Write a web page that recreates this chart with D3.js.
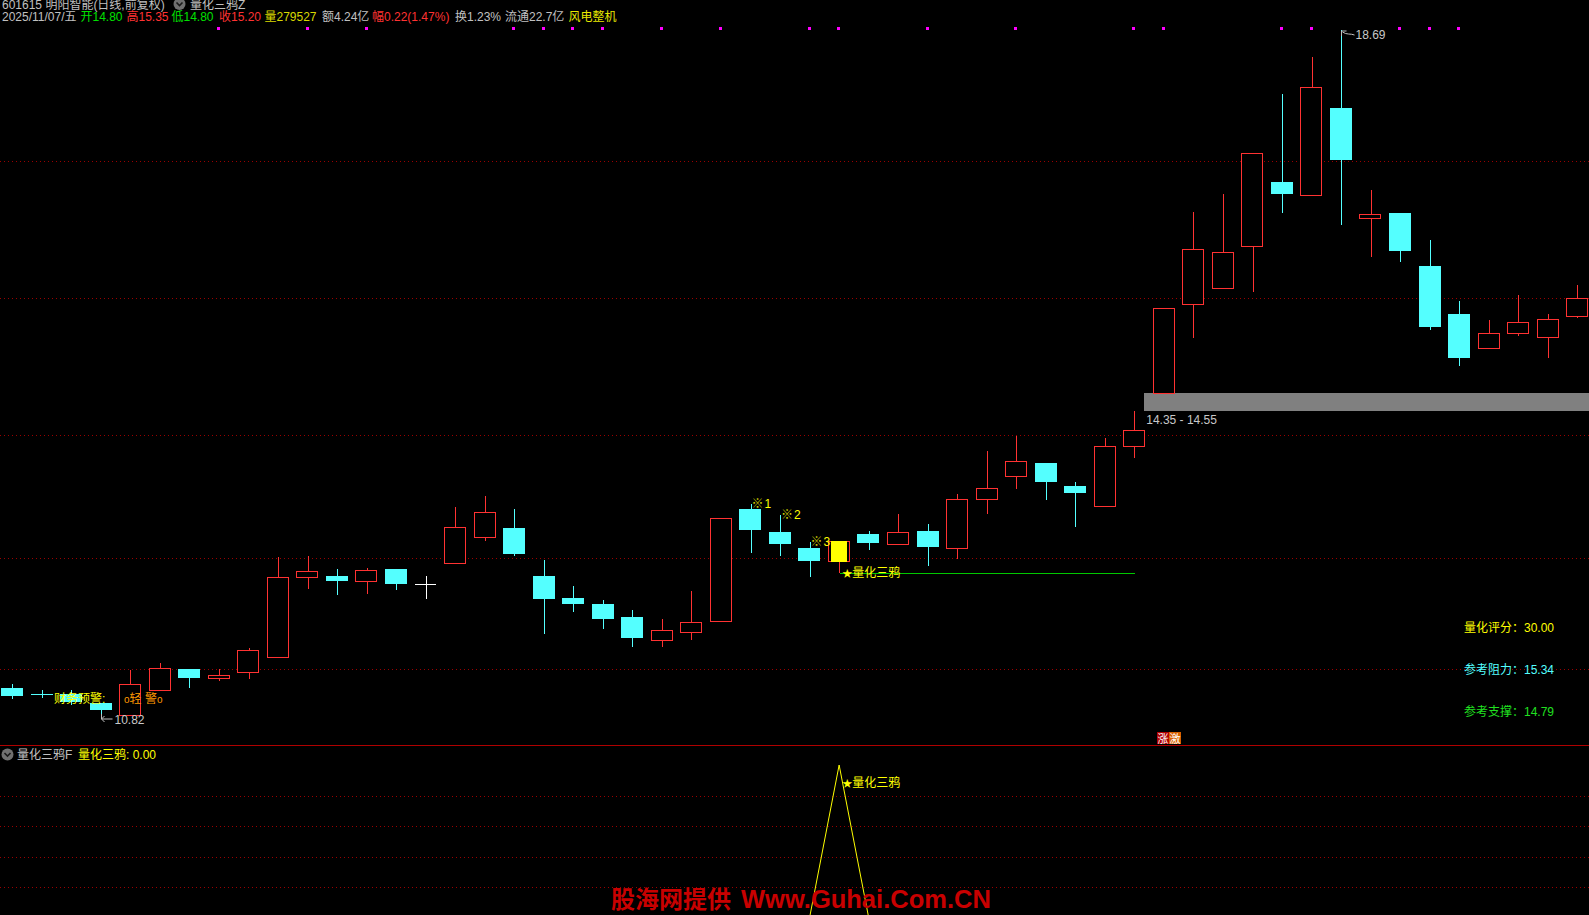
<!DOCTYPE html>
<html>
<head>
<meta charset="utf-8">
<script src="https://cdn.jsdelivr.net/npm/d3@7/dist/d3.min.js"></script>
<style>
  html, body { margin: 0; padding: 0; background: #000; overflow: hidden; }
  svg { display: block; }
  text { font-family: "Liberation Sans", "Noto Sans CJK SC", sans-serif; }
</style>
</head>
<body>
<div id="chart"></div>
<script>
// ---------------- data ----------------
const opens  = [11.18,11.11,11.11,11.01,10.87,11.16,11.40,11.29,11.36,11.53,
                12.45,12.46,12.40,12.54,12.37,12.61,12.90,13.00,12.46,12.20,
                12.14,11.99,11.73,11.82,11.94,13.22,12.96,12.78,12.63,12.94,
                12.82,12.97,12.78,13.34,13.60,13.75,13.48,13.25,13.94,14.54,
                15.56,15.75,16.22,16.96,16.81,17.80,16.54,16.60,16.00,15.45,
                15.06,15.23,15.18,15.42];
const highs  = [11.22,11.15,11.15,11.01,11.38,11.46,11.40,11.40,11.63,12.67,
                12.68,12.54,12.55,12.54,12.46,13.24,13.37,13.22,12.64,12.34,
                12.18,12.07,11.97,12.28,13.12,13.28,13.15,12.84,12.86,12.97,
                13.16,13.05,13.39,13.88,14.05,13.75,13.53,14.03,14.34,15.52,
                16.61,16.82,17.28,17.96,18.38,18.69,16.86,16.60,16.29,15.60,
                15.38,15.66,15.45,15.78];
const lows   = [11.05,11.06,10.98,10.82,10.87,11.16,11.18,11.26,11.28,11.53,
                12.31,12.24,12.25,12.30,12.19,12.61,12.86,12.69,11.79,12.04,
                11.85,11.65,11.65,11.73,11.94,12.72,12.68,12.44,12.49,12.75,
                12.81,12.57,12.65,13.16,13.45,13.32,13.02,13.25,13.80,14.54,
                15.17,15.75,15.70,16.60,16.80,16.46,16.10,16.04,15.27,14.85,
                15.06,15.20,14.94,15.40];
const closes = [11.09,11.10,11.02,10.93,11.22,11.41,11.29,11.33,11.61,12.45,
                12.51,12.40,12.53,12.37,12.37,13.02,13.19,12.71,12.19,12.14,
                11.97,11.75,11.84,11.93,13.12,12.98,12.82,12.63,12.86,12.83,
                12.96,12.79,13.33,13.46,13.77,13.53,13.40,13.94,14.12,15.52,
                16.19,16.15,17.28,16.82,18.04,17.21,16.59,16.17,15.30,14.94,
                15.23,15.36,15.39,15.63];
const gridPrices = [17.19, 15.63, 14.07, 12.66, 11.39];
const subGridValues = [0.2, 0.4, 0.6, 0.8];
const markIdx = [7,10,12,17,18,19,20,22,24,27,28,31,34,38,39,43,44,47,48,49];
const crowIdx = [25, 26, 27];
const crowNums = ["1", "2", "3"];
const signalIdx = 28;
const supportEndIdx = 38;
const zoneIdx = 39;
const zoneRange = [14.35, 14.55];
const zoneLabel = "14.35 - 14.55";
const badgeIdx = 39;
const priceMax = 18.69, priceMin = 10.82;
const signalValues = opens.map((d, i) => i === signalIdx ? 1 : 0);
const headerItems = [
  {t:"2025/11/07/五", c:"#c0c0c0", x:2},
  {t:"开14.80", c:"#00e000", x:80.5},
  {t:"高15.35", c:"#ff3232", x:126.5},
  {t:"低14.80", c:"#00e000", x:171.5},
  {t:"收15.20", c:"#ff3232", x:219},
  {t:"量279527", c:"#d8d800", x:264.5},
  {t:"额4.24亿", c:"#c0c0c0", x:322},
  {t:"幅0.22(1.47%)", c:"#ff3232", x:372},
  {t:"换1.23%", c:"#c0c0c0", x:455},
  {t:"流通22.7亿", c:"#c0c0c0", x:505},
  {t:"风电整机", c:"#e8e800", x:568.5}
];
const infoLabels = [
  {name:"量化评分", val:"30.00", c:"#ffff00"},
  {name:"参考阻力", val:"15.34", c:"#54ffff"},
  {name:"参考支撑", val:"14.79", c:"#20e020"}
];

// ---------------- chart ----------------
const W = 1589, H = 915;
const RED = "#ff3232", CYAN = "#54ffff";
const svg = d3.select("#chart").append("svg").attr("width", W).attr("height", H)
  .style("background", "#000");

const idx = d3.range(opens.length);
const x = d3.scaleBand().domain(idx).range([-2.47, 1592.15]).paddingInner(0.24).paddingOuter(0.12);
const xc = i => x(i) + x.bandwidth() / 2;
const y = d3.scaleLinear().domain([priceMin, priceMax]).range([719.3, 30]);
const ys = d3.scaleLinear().domain([0, 1]).range([917.5, 765]);
const px = v => Math.round(v) + 0.5;

// grid lines main
svg.append("g").selectAll("line").data(gridPrices).join("line")
  .attr("x1", 0).attr("x2", W)
  .attr("y1", d => px(y(d))).attr("y2", d => px(y(d)))
  .attr("stroke", "#9a0000").attr("stroke-dasharray", "1,3").attr("shape-rendering", "crispEdges");
// grid lines sub
svg.append("g").selectAll("line").data(subGridValues).join("line")
  .attr("x1", 0).attr("x2", W)
  .attr("y1", d => px(ys(d))).attr("y2", d => px(ys(d)))
  .attr("stroke", "#9a0000").attr("stroke-dasharray", "1,3").attr("shape-rendering", "crispEdges");

// separator
svg.append("line").attr("x1", 0).attr("x2", W).attr("y1", 745.5).attr("y2", 745.5)
  .attr("stroke", "#b00000").attr("shape-rendering", "crispEdges");

// zone band
svg.append("rect")
  .attr("x", Math.round(xc(zoneIdx) - x.step() * 0.66)).attr("width", W)
  .attr("y", Math.round(y(zoneRange[1]))).attr("height", Math.round(y(zoneRange[0]) - y(zoneRange[1])))
  .attr("fill", "#808080");
svg.append("text").attr("x", xc(zoneIdx) - x.step() * 0.6).attr("y", Math.round(y(zoneRange[0])) + 10)
  .attr("fill", "#c8c8c8").attr("font-size", 12).attr("dominant-baseline", "central").text(zoneLabel);

// support line from signal candle
svg.append("line")
  .attr("x1", px(xc(signalIdx))).attr("x2", px(xc(supportEndIdx)))
  .attr("y1", px(y(lows[signalIdx]))).attr("y2", px(y(lows[signalIdx])))
  .attr("stroke", "#00c800").attr("shape-rendering", "crispEdges");

// candles
const g = svg.append("g").attr("shape-rendering", "crispEdges");
idx.forEach(i => {
  const o = opens[i], c = closes[i], h = highs[i], l = lows[i];
  const cx = px(xc(i));
  const left = Math.round(x(i)) + 0.5;
  const bw = Math.round(x.bandwidth()) - 1;
  const top = Math.round(y(Math.max(o, c))), bot = Math.round(y(Math.min(o, c)));
  const yh = Math.round(y(h)), yl = Math.round(y(l));
  if (c > o) {
    if (yh < top) g.append("line").attr("x1", cx).attr("x2", cx).attr("y1", yh).attr("y2", top).attr("stroke", RED);
    if (yl > bot) g.append("line").attr("x1", cx).attr("x2", cx).attr("y1", bot).attr("y2", yl).attr("stroke", RED);
    g.append("rect").attr("x", left).attr("y", top + 0.5).attr("width", bw).attr("height", Math.max(1, bot - top))
      .attr("fill", "#000").attr("stroke", RED);
    if (i === signalIdx) {
      g.append("rect").attr("x", left + 2.5).attr("y", top).attr("width", bw - 5).attr("height", bot - top + 1)
        .attr("fill", "#ffff00");
    }
  } else if (c < o) {
    g.append("line").attr("x1", cx).attr("x2", cx).attr("y1", yh).attr("y2", yl).attr("stroke", CYAN);
    g.append("rect").attr("x", left - 0.5).attr("y", top).attr("width", bw + 1).attr("height", Math.max(1, bot - top))
      .attr("fill", CYAN);
  } else {
    g.append("line").attr("x1", cx).attr("x2", cx).attr("y1", yh).attr("y2", yl).attr("stroke", "#ffffff");
    g.append("line").attr("x1", left).attr("x2", left + bw).attr("y1", top + 0.5).attr("y2", top + 0.5).attr("stroke", "#ffffff");
  }
});

// magenta marks
svg.append("g").selectAll("rect").data(markIdx).join("rect")
  .attr("x", d => Math.round(xc(d)) - 2).attr("y", 27).attr("width", 3).attr("height", 3)
  .attr("fill", "#ff00ff");

// crow labels
crowIdx.forEach((ci, k) => {
  const t = svg.append("text").attr("x", xc(ci) + 1).attr("y", y(highs[ci]))
    .attr("dominant-baseline", "central").attr("font-size", 12);
  t.append("tspan").attr("fill", "#d0d000").attr("font-weight", "bold").text("※");
  t.append("tspan").attr("fill", "#ffff00").attr("dx", 1).text(crowNums[k]);
});
// signal label
const sl = svg.append("text").attr("x", xc(signalIdx) + 3).attr("y", y(lows[signalIdx]))
  .attr("dominant-baseline", "central").attr("font-size", 12).attr("fill", "#ffff00");
sl.append("tspan").attr("font-size", 10).text("★");
sl.append("tspan").text("量化三鸦");

// high / low markers
const hiIdx = highs.indexOf(d3.max(highs));
const loIdx = lows.indexOf(d3.min(lows));
const hx = px(xc(hiIdx)), hy = Math.round(y(highs[hiIdx]));
svg.append("path").attr("d", `M${hx},${hy + 6}V${hy + 1}H${hx + 5}M${hx + 1},${hy + 2}q3,2 6,2t6,1`)
  .attr("stroke", "#c0c0c0").attr("fill", "none");
svg.append("text").attr("x", hx + 14).attr("y", hy + 5).attr("dominant-baseline", "central")
  .attr("fill", "#c8c8c8").attr("font-size", 12).text(d3.format(".2f")(highs[hiIdx]));
const lx = px(xc(loIdx)), ly = Math.round(y(lows[loIdx]));
svg.append("path").attr("d", `M${lx},${ly - 5}V${ly}M${lx},${ly}H${lx + 11}M${lx},${ly}l3,-3M${lx},${ly}l3,3`)
  .attr("stroke", "#c0c0c0").attr("fill", "none");
svg.append("text").attr("x", lx + 13).attr("y", ly + 1).attr("dominant-baseline", "central")
  .attr("fill", "#c8c8c8").attr("font-size", 12).text(d3.format(".2f")(lows[loIdx]));

// finance warning
const fw = svg.append("text").attr("x", 54).attr("y", 698.5).attr("dominant-baseline", "central").attr("font-size", 12);
fw.append("tspan").attr("fill", "#ffff00").text("财务预警:");
fw.append("tspan").attr("fill", "#ff9a00").attr("x", 124).attr("font-size", 10).text("o");
fw.append("tspan").attr("fill", "#ff9a00").text("轻 警");
fw.append("tspan").attr("fill", "#ff9a00").attr("font-size", 10).text("o");

// info labels
svg.append("g").selectAll("text").data(infoLabels).join("text")
  .attr("x", 1464).attr("y", (d, i) => 627.5 + i * 42.2).attr("dominant-baseline", "central")
  .attr("font-size", 12).attr("fill", d => d.c).text(d => d.name + "：" + d.val);

// badge
const bx = Math.round(xc(badgeIdx) - 7);
svg.append("rect").attr("x", bx).attr("y", 732).attr("width", 12).attr("height", 12).attr("fill", "#b00000");
svg.append("rect").attr("x", bx + 12).attr("y", 732).attr("width", 12).attr("height", 12).attr("fill", "#d86000");
svg.append("text").attr("x", bx + 6).attr("y", 738.5).attr("text-anchor", "middle").attr("dominant-baseline", "central")
  .attr("font-size", 11).attr("fill", "#fff").text("涨");
svg.append("text").attr("x", bx + 18).attr("y", 738.5).attr("text-anchor", "middle").attr("dominant-baseline", "central")
  .attr("font-size", 11).attr("fill", "#fff").text("激");

// lower panel signal line
svg.append("clipPath").attr("id", "lowclip").append("rect").attr("x", 0).attr("y", 747).attr("width", W).attr("height", H - 747);
svg.append("path").datum(signalValues).attr("clip-path", "url(#lowclip)")
  .attr("d", d3.line().x((d, i) => xc(i)).y(d => ys(d)))
  .attr("fill", "none").attr("stroke", "#ffff00").attr("stroke-width", 1);
const ll = svg.append("text").attr("x", xc(signalIdx) + 3).attr("y", ys(1) + 17.5)
  .attr("dominant-baseline", "central").attr("font-size", 12).attr("fill", "#ffff00");
ll.append("tspan").attr("font-size", 10).text("★");
ll.append("tspan").text("量化三鸦");

// header icons
function icon(cx, cy) {
  svg.append("circle").attr("cx", cx).attr("cy", cy).attr("r", 6).attr("fill", "#707070");
  svg.append("path").attr("d", `M${cx - 3},${cy - 1.5}L${cx},${cy + 1.5}L${cx + 3},${cy - 1.5}`)
    .attr("stroke", "#1a1a1a").attr("stroke-width", 1.6).attr("fill", "none");
}
// header line 1 (clipped at top, as in the source window)
svg.append("text").attr("x", 2).attr("y", 9).attr("font-size", 12).attr("fill", "#c0c0c0").text("601615 明阳智能(日线,前复权)");
icon(179.5, 4);
svg.append("text").attr("x", 190).attr("y", 9).attr("font-size", 12).attr("fill", "#c0c0c0").text("量化三鸦Z");
// header line 2
svg.append("g").selectAll("text").data(headerItems).join("text")
  .attr("x", d => d.x).attr("y", 16.5).attr("dominant-baseline", "central")
  .attr("font-size", 12).attr("fill", d => d.c).text(d => d.t);

// lower panel header
icon(7.5, 754.5);
const lh = svg.append("text").attr("x", 17).attr("y", 754.5).attr("dominant-baseline", "central").attr("font-size", 12);
lh.append("tspan").attr("fill", "#c0c0c0").text("量化三鸦F");
lh.append("tspan").attr("fill", "#ffff00").attr("x", 78).text("量化三鸦: " + d3.format(".2f")(signalValues[signalValues.length - 1]));

// watermark
const wm = svg.append("text").attr("x", 611).attr("y", 899).attr("dominant-baseline", "central")
  .attr("font-weight", "bold").attr("fill", "#c80000");
wm.append("tspan").attr("font-size", 24).text("股海网提供");
wm.append("tspan").attr("font-size", 25.5).attr("x", 622 + 121 - 2).text("Www.Guhai.Com.CN");
</script>
</body>
</html>
